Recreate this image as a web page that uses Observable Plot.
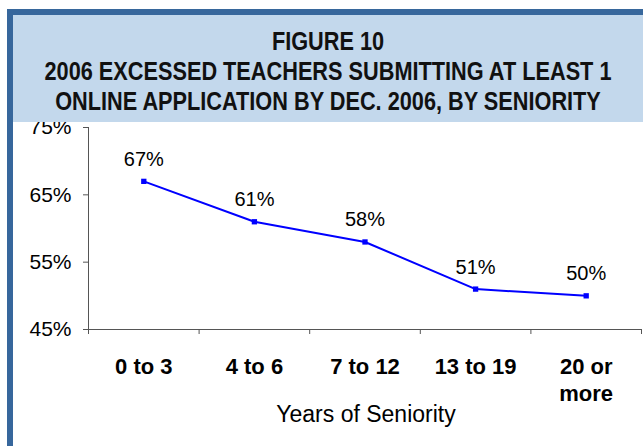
<!DOCTYPE html>
<html>
<head>
<meta charset="utf-8">
<script src="https://cdn.jsdelivr.net/npm/d3@7"></script>
<script src="https://cdn.jsdelivr.net/npm/@observablehq/plot@0.6"></script>
<style>
  html, body { margin: 0; padding: 0; background: #fff; }
  #wrap { position: relative; width: 643px; height: 446px; overflow: hidden; background: #fff; }
  #chart { position: absolute; left: 0; top: 0; }
  #titlebox {
    position: absolute; left: 13px; top: 14px; width: 630px; height: 108px;
    background: #c3d8ec; z-index: 2; color: #111;
    font-family: "Liberation Sans", Arial, sans-serif;
    font-weight: bold; font-size: 26px; line-height: 30px;
  }
  #titlebox .ln { position: absolute; left: 50%; white-space: nowrap; transform: translateX(-50%) scaleX(0.835); transform-origin: 50% 50%; }
  #btop { position: absolute; left: 7px; top: 9px; width: 636px; height: 6px; background: #37679c; z-index: 3; }
  #bleft { position: absolute; left: 7px; top: 9px; width: 6px; height: 437px; background: #37679c; z-index: 3; }
</style>
</head>
<body>
<div id="wrap">
  <div id="chart"></div>
  <div id="titlebox"><span class="ln" style="top:12px">FIGURE 10</span><span class="ln" style="top:42px">2006 EXCESSED TEACHERS SUBMITTING AT LEAST 1</span><span class="ln" style="top:72px">ONLINE APPLICATION BY DEC. 2006, BY SENIORITY</span></div>
  <div id="btop"></div>
  <div id="bleft"></div>
</div>
<script>
const categories = ["0 to 3", "4 to 6", "7 to 12", "13 to 19", "20 or\nmore"];
const values = [67, 61, 58, 51, 50];
const yTicks = [45, 55, 65, 75];
const xTitle = "Years of Seniority";

const data = categories.map((c, i) => ({cat: c, idx: i + 0.5, v: values[i]}));
const boundaries = d3.range(categories.length + 1);

const font = "'Liberation Sans', Arial, sans-serif";
const axisColor = "#555";

const chart = Plot.plot({
  width: 643,
  height: 446,
  marginTop: 127,
  marginBottom: 117,
  marginLeft: 88,
  marginRight: 2,
  style: {fontFamily: font, color: "#000", background: "transparent", overflow: "visible"},
  x: {type: "linear", domain: [0, categories.length], axis: null},
  y: {domain: [45, 75], axis: null},
  marks: [
    Plot.ruleX([0], {y1: 45, y2: 75, stroke: axisColor, strokeWidth: 1}),
    Plot.ruleY([45], {stroke: axisColor, strokeWidth: 1}),
    Plot.axisY({ticks: yTicks, tickFormat: d => d + "%", tickSize: 5, tickPadding: 12, fontSize: 21, stroke: axisColor, color: "#000", label: null}),
    Plot.axisX({ticks: boundaries, tickFormat: () => "", tickSize: 5, stroke: axisColor, label: null}),
    Plot.text(data, {x: "idx", text: "cat", frameAnchor: "bottom", lineAnchor: "top", dy: 26, fontSize: 22, fontWeight: "bold", lineHeight: 1.2, fill: "#000"}),
    Plot.text([xTitle], {frameAnchor: "bottom", lineAnchor: "middle", dy: 85, dx: 1, fontSize: 23, fill: "#000"}),
    Plot.line(data, {x: "idx", y: "v", stroke: "#0000ff", strokeWidth: 2}),
    Plot.dot(data, {x: "idx", y: "v", symbol: "square", r: 3, fill: "#0000ff", stroke: "none"}),
    Plot.text(data, {x: "idx", y: "v", text: d => d.v + "%", dy: -22, fontSize: 20, fill: "#000"})
  ]
});
document.getElementById("chart").appendChild(chart);
</script>
</body>
</html>
